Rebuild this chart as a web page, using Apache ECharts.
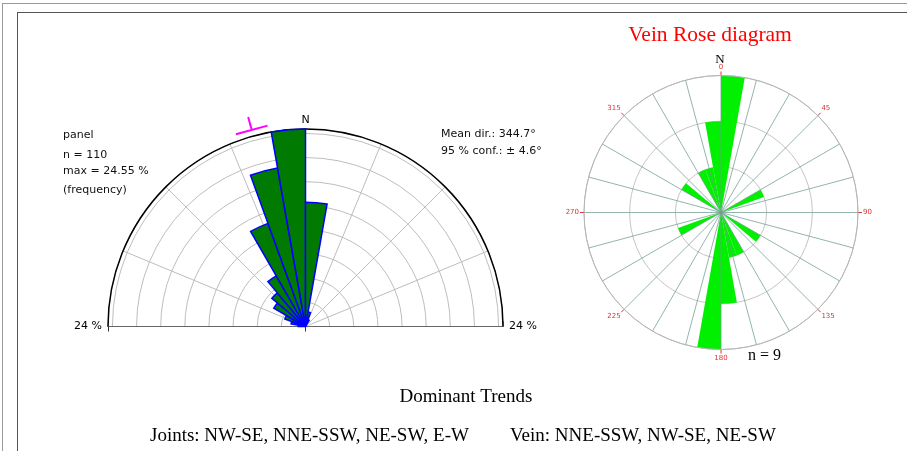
<!DOCTYPE html>
<html><head><meta charset="utf-8">
<script src="https://cdn.jsdelivr.net/npm/echarts@6/dist/echarts.min.js"></script>
<style>
html,body{margin:0;padding:0;background:#fff;overflow:hidden;}
#outer{position:absolute;left:2px;top:3px;width:905px;height:448px;border-left:1px solid #9a9a9a;border-top:1px solid #9a9a9a;}
#inner{position:absolute;left:17px;top:12px;width:890px;height:439px;border-left:1px solid #555;border-top:1px solid #555;}
#chart{position:absolute;left:0;top:0;width:907px;height:451px;}
</style></head>
<body>
<div id="outer"></div><div id="inner"></div>
<div id="chart"></div>
<script>
// ---- Joints rose (left half rose): 10° bins from 270° (W) through N to 90° (E) ----
const jointBins = ['270','280','290','300','310','320','330','340','350','0','10','20','30','40','50','60','70','80'];
const jointCounts = [1, 2, 3, 5, 6, 8, 15, 22, 27, 17, 2, 1, 0, 0, 0, 0, 0, 0];
const jointN = 110;
const jointMaxPct = 24.55;
const jointMeanDir = 344.7;
const jointConf95 = 4.6;

// ---- Vein rose (right full rose): 10° bins, bidirectional counts ----
const veinBins = ['0','10','20','30','40','50','60','70','80','90','100','110','120','130','140','150','160','170',
                  '180','190','200','210','220','230','240','250','260','270','280','290','300','310','320','330','340','350'];
const veinCounts = [3,0,0,0,0,0,1,0,0,0,0,0,1,0,0,1,1,2,
                    3,0,0,0,0,0,1,0,0,0,0,0,1,0,0,1,1,2];
const veinN = 9;
const veinDirLabels = [0, 45, 90, 135, 180, 225, 270, 315];

// ---- Text ----
const veinTitle = 'Vein Rose diagram';
const trendsTitle = 'Dominant Trends';
const jointsTrends = 'Joints: NW-SE, NNE-SSW, NE-SW, E-W';
const veinTrends = 'Vein: NNE-SSW, NW-SE, NE-SW';

const jointPct = jointCounts.map(c => +(c / jointN * 100).toFixed(2));

const sans = 'DejaVu Sans';
const Lc = [305.5, 326.5], Lr = 197.5;
const Rc = [721, 212.5], Rr = 137;
const markScale = 1.12;   // marker polar reaches a bit beyond the rose
const none = {show: false};

function hiddenAxis(idx, extra) {
  return Object.assign({polarIndex: idx, axisLine: none, axisTick: none, axisLabel: none, splitLine: none}, extra);
}

const chart = echarts.init(document.getElementById('chart'));
chart.setOption({
  animation: false,
  polar: [
    {center: Lc, radius: Lr},
    {center: Lc, radius: Lr},
    {center: Lc, radius: Lr},
    {center: Rc, radius: Rr},
    {center: Rc, radius: Rr},
    {center: Rc, radius: Rr},
    {center: Lc, radius: Lr * markScale}
  ],
  angleAxis: [
    {polarIndex: 0, type: 'value', min: 270, max: 450, interval: 22.5, startAngle: 180, endAngle: 0, clockwise: true,
     axisLine: {show: true, lineStyle: {color: '#000', width: 1.5}}, axisTick: none,
     axisLabel: {show: true, margin: 3, color: '#000', fontFamily: sans, fontSize: 11,
                 formatter: v => (v === 360 ? 'N' : '')},
     splitLine: {show: true, lineStyle: {color: '#bdbdbd', width: 1}}},
    hiddenAxis(1, {type: 'category', data: jointBins, boundaryGap: true, startAngle: 180, endAngle: 0, clockwise: true}),
    hiddenAxis(2, {type: 'value', min: 0, max: 180, startAngle: 0, endAngle: 180, clockwise: false}),
    {polarIndex: 3, type: 'value', min: 0, max: 360, interval: 15, startAngle: 90, clockwise: true, z: 5,
     axisLine: {show: true, lineStyle: {color: '#b5b5b5', width: 1}}, axisTick: none, axisLabel: none,
     splitLine: {show: true, lineStyle: {color: '#6f9c90', width: 1, opacity: 0.75}}},
    {polarIndex: 4, type: 'value', min: 0, max: 360, interval: 45, startAngle: 90, clockwise: true,
     axisLine: none, splitLine: none,
     axisTick: {show: true, length: 4, lineStyle: {color: '#e03030', width: 1}},
     axisLabel: {show: true, margin: 5, color: '#e03030', fontFamily: sans, fontSize: 7,
                 formatter: v => (veinDirLabels.indexOf(v) >= 0 ? String(v) : '')}},
    hiddenAxis(5, {type: 'category', data: veinBins, boundaryGap: true, startAngle: 90, clockwise: true}),
    hiddenAxis(6, {type: 'value', min: 270, max: 450, startAngle: 180, endAngle: 0, clockwise: true})
  ],
  radiusAxis: [
    {polarIndex: 0, type: 'value', min: 0, max: jointMaxPct, interval: 3,
     axisLine: none, axisTick: none, axisLabel: none,
     splitLine: {show: true, lineStyle: {color: '#bdbdbd', width: 1}}},
    {polarIndex: 1, type: 'value', min: 0, max: jointMaxPct, interval: jointMaxPct,
     axisLine: {show: true, lineStyle: {color: '#666', width: 1}},
     axisTick: {show: true, length: 5, lineStyle: {color: '#333'}}, axisLabel: none, splitLine: none,
     name: Math.floor(jointMaxPct) + ' %', nameLocation: 'end', nameGap: 6,
     nameTextStyle: {fontFamily: sans, fontSize: 11, color: '#000'}},
    {polarIndex: 2, type: 'value', min: 0, max: jointMaxPct, interval: jointMaxPct,
     axisLine: {show: true, lineStyle: {color: '#666', width: 1}},
     axisTick: {show: true, length: 5, lineStyle: {color: '#333'}}, axisLabel: none, splitLine: none,
     name: Math.floor(jointMaxPct) + ' %', nameLocation: 'end', nameGap: 6,
     nameTextStyle: {fontFamily: sans, fontSize: 11, color: '#000'}},
    {polarIndex: 3, type: 'value', min: 0, max: 3, interval: 1,
     axisLine: none, axisTick: none, axisLabel: none,
     splitLine: {show: true, lineStyle: {color: '#c4c4c4', width: 1}}},
    hiddenAxis(4, {type: 'value', min: 0, max: 3}),
    hiddenAxis(5, {type: 'value', min: 0, max: 3}),
    hiddenAxis(6, {type: 'value', min: 0, max: jointMaxPct * markScale})
  ],
  series: [
    {type: 'bar', coordinateSystem: 'polar', polarIndex: 1, data: jointPct, barCategoryGap: '0%',
     itemStyle: {color: '#007a00', borderColor: '#0000ff', borderWidth: 1.5}},
    {type: 'line', coordinateSystem: 'polar', polarIndex: 6, symbol: 'none', z: 6, silent: true,
     lineStyle: {color: '#ff00ff', width: 2},
     data: [[jointMaxPct * 1.035, jointMeanDir - jointConf95], [jointMaxPct * 1.035, jointMeanDir + jointConf95]]},
    {type: 'line', coordinateSystem: 'polar', polarIndex: 6, symbol: 'none', z: 6, silent: true,
     lineStyle: {color: '#ff00ff', width: 2},
     data: [[jointMaxPct * 1.035, jointMeanDir], [jointMaxPct * 1.1, jointMeanDir]]},
    {type: 'bar', coordinateSystem: 'polar', polarIndex: 5, data: veinCounts, barCategoryGap: '0%',
     itemStyle: {color: '#00f000'}}
  ],
  graphic: [
    {type: 'text', x: 63, y: 135, style: {text: 'panel', font: '11px "DejaVu Sans"', fill: '#111', verticalAlign: 'middle'}},
    {type: 'text', x: 63, y: 155, style: {text: 'n = ' + jointN, font: '11px "DejaVu Sans"', fill: '#111', verticalAlign: 'middle'}},
    {type: 'text', x: 63, y: 171, style: {text: 'max = ' + jointMaxPct + ' %', font: '11px "DejaVu Sans"', fill: '#111', verticalAlign: 'middle'}},
    {type: 'text', x: 63, y: 190, style: {text: '(frequency)', font: '11px "DejaVu Sans"', fill: '#111', verticalAlign: 'middle'}},
    {type: 'text', x: 441, y: 134, style: {text: 'Mean dir.: ' + jointMeanDir + '°', font: '11px "DejaVu Sans"', fill: '#111', verticalAlign: 'middle'}},
    {type: 'text', x: 441, y: 151, style: {text: '95 % conf.: ± ' + jointConf95 + '°', font: '11px "DejaVu Sans"', fill: '#111', verticalAlign: 'middle'}},
    {type: 'text', x: 710, y: 35, style: {text: veinTitle, font: '21.5px "Liberation Serif"', fill: '#ff0000', align: 'center', verticalAlign: 'middle'}},
    {type: 'text', x: 720, y: 60, style: {text: 'N', font: '13px "Liberation Serif"', fill: '#000', align: 'center', verticalAlign: 'middle'}},
    {type: 'text', x: 748, y: 356, style: {text: 'n = ' + veinN, font: '16px "Liberation Serif"', fill: '#000', verticalAlign: 'middle'}},
    {type: 'text', x: 466, y: 397, style: {text: trendsTitle, font: '19px "Liberation Serif"', fill: '#000', align: 'center', verticalAlign: 'middle'}},
    {type: 'text', x: 150, y: 436, style: {text: jointsTrends, font: '19px "Liberation Serif"', fill: '#000', verticalAlign: 'middle'}},
    {type: 'text', x: 510, y: 436, style: {text: veinTrends, font: '19px "Liberation Serif"', fill: '#000', verticalAlign: 'middle'}}
  ]
});
</script>
</body></html>
